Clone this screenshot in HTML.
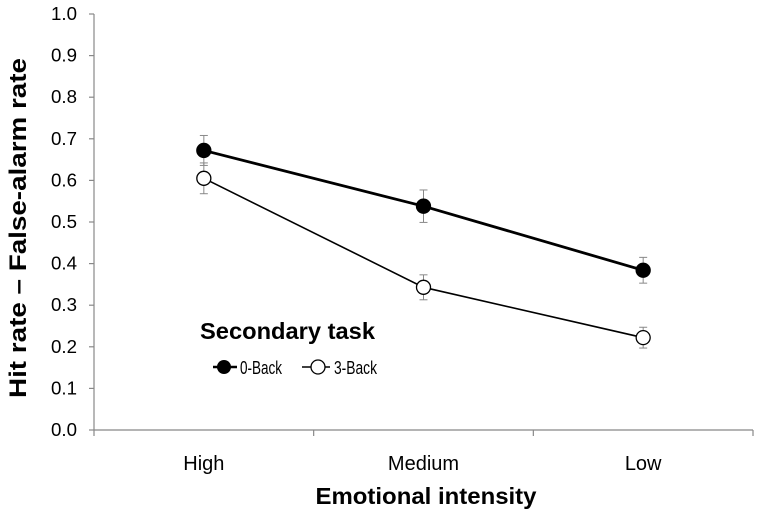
<!DOCTYPE html>
<html><head><meta charset="utf-8"><style>
body{margin:0;background:#fff}
svg{display:block;font-family:"Liberation Sans",Carlito,sans-serif}
</style></head><body>
<svg id="chart" width="759" height="515" viewBox="0 0 759 515" xmlns="http://www.w3.org/2000/svg">
<g id="axes"></g>
<g id="series"></g>
<text transform="translate(26,228) rotate(-90)" text-anchor="middle" font-size="24" font-weight="bold" textLength="340" lengthAdjust="spacingAndGlyphs">Hit rate – False-alarm rate</text>
<text x="426" y="504" text-anchor="middle" font-size="23" font-weight="bold" textLength="221" lengthAdjust="spacingAndGlyphs">Emotional intensity</text>
<g>
<text x="200" y="339" font-size="23" font-weight="bold" textLength="175" lengthAdjust="spacingAndGlyphs">Secondary task</text>
<g>
<line x1="213" y1="367" x2="237" y2="367" stroke="#000" stroke-width="2.5"/>
<circle cx="224" cy="367" r="7" fill="#000"/>
<text x="240" y="374" font-size="18" textLength="42" lengthAdjust="spacingAndGlyphs">0-Back</text></g>
<g>
<line x1="302" y1="367" x2="330" y2="367" stroke="#000" stroke-width="1.5"/>
<circle cx="318" cy="367" r="7" fill="#fff" stroke="#000" stroke-width="1.3"/>
<text x="334" y="374" font-size="18" textLength="43" lengthAdjust="spacingAndGlyphs">3-Back</text></g>
</g>
</svg>
<script>
const categories=["High","Medium","Low"];
const yTicks=[0,0.1,0.2,0.3,0.4,0.5,0.6,0.7,0.8,0.9,1.0];
const back0=[0.672,0.538,0.384];
const back0Err=[0.036,0.039,0.031];
const back3=[0.605,0.343,0.222];
const back3Err=[0.037,0.030,0.025];

const NS="http://www.w3.org/2000/svg";
const X0=94,X1=753,Y0=430,Y1=14;
const band=(X1-X0)/categories.length;
const xPos=i=>X0+band*(i+0.5);
const yPos=v=>Y0-(v)*(Y0-Y1);
function mk(tag,attrs,parent){const e=document.createElementNS(NS,tag);for(const k in attrs)e.setAttribute(k,attrs[k]);parent.appendChild(e);return e;}
const axes=document.getElementById('axes'),series=document.getElementById('series');
let a=mk('line',{x1:X0,y1:Y1,x2:X0,y2:Y0,stroke:'#888','stroke-width':1.2},axes);


a=mk('line',{x1:X0,y1:Y0,x2:X1,y2:Y0,stroke:'#888','stroke-width':1.2},axes);


yTicks.forEach(v=>{
 const y=yPos(v);
 mk('line',{x1:X0-5,y1:y,x2:X0,y2:y,stroke:'#888','stroke-width':1.2},axes);
 const t=mk('text',{x:77,y:y+6,'text-anchor':'end','font-size':18,textLength:26,lengthAdjust:'spacingAndGlyphs'},axes);
 t.textContent=v.toFixed(1);
 
 
});
for(let i=0;i<=categories.length;i++){const x=X0+band*i;mk('line',{x1:x,y1:Y0,x2:x,y2:Y0+6,stroke:'#888','stroke-width':1.2},axes);}
categories.forEach((c,i)=>{
 const t=mk('text',{x:xPos(i),y:470,'text-anchor':'middle','font-size':20},axes);
 t.textContent=c;
 
 
});
function drawSeries(vals,errs,filled,lw,name){
 const g=mk('g',{},series);
 
 
 vals.forEach((v,i)=>{
  const x=xPos(i);
  mk('line',{x1:x,y1:yPos(v+errs[i]),x2:x,y2:yPos(v-errs[i]),stroke:'#888','stroke-width':1},g);
  [v+errs[i],v-errs[i]].forEach(e=>mk('line',{x1:x-4,y1:yPos(e),x2:x+4,y2:yPos(e),stroke:'#888','stroke-width':1},g));
 });
 mk('polyline',{points:vals.map((v,i)=>xPos(i)+','+yPos(v)).join(' '),fill:'none',stroke:'#000','stroke-width':lw},g);
 vals.forEach((v,i)=>{
  const c=mk('circle',{cx:xPos(i),cy:yPos(v),r:7,fill:filled?'#000':'#fff',stroke:'#000','stroke-width':1.3},g);
  
  
 });
}
drawSeries(back3,back3Err,false,1.6,'series-3back');
drawSeries(back0,back0Err,true,2.8,'series-0back');
</script>
</body></html>
